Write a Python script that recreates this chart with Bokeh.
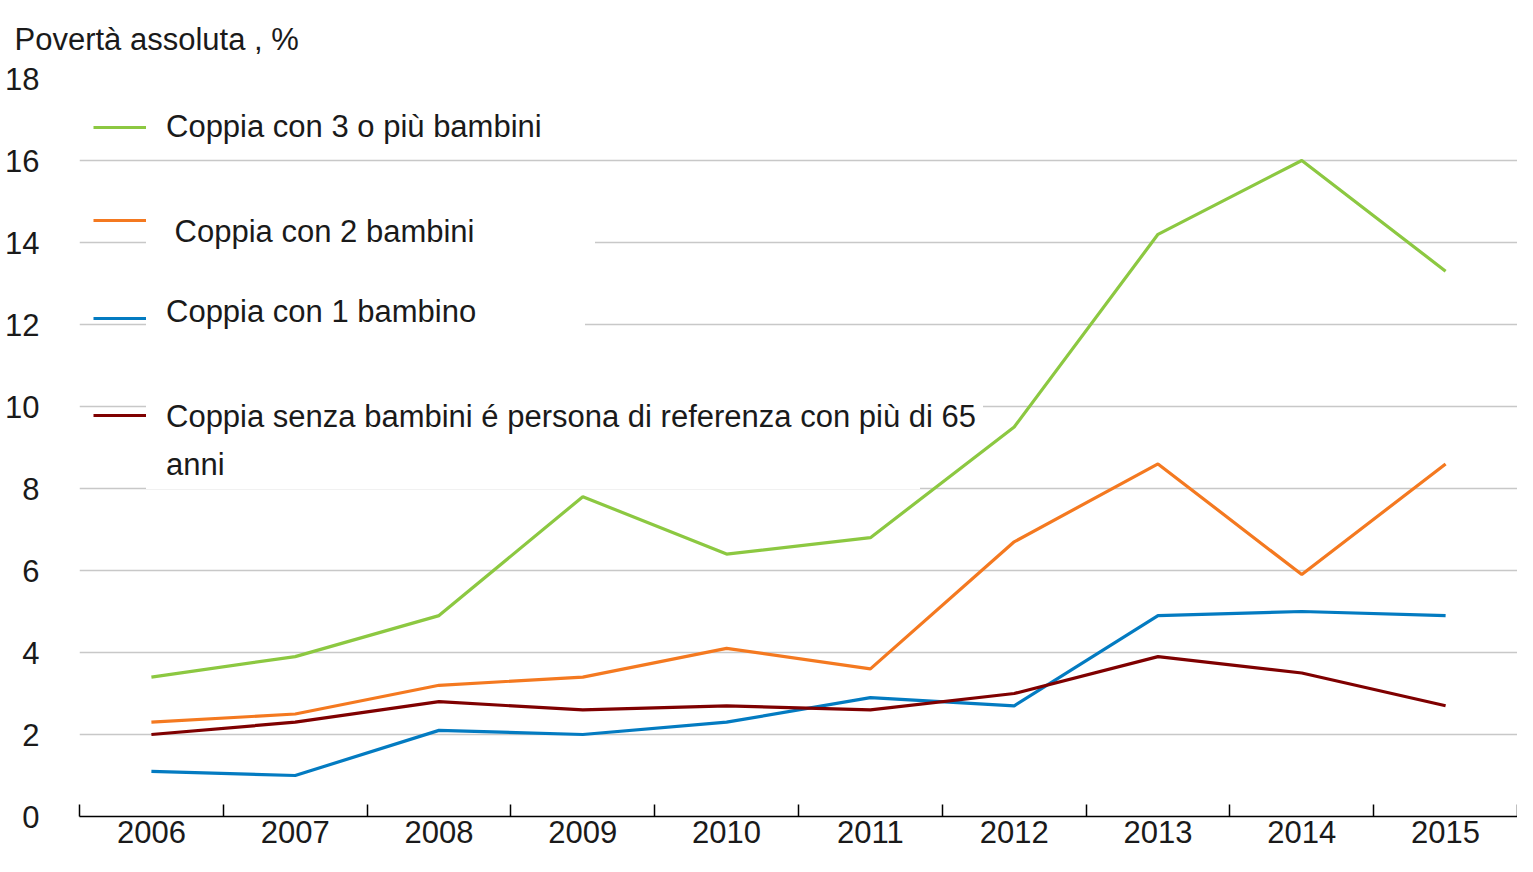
from bokeh.plotting import figure
from bokeh.models import Range1d, FixedTicker, Legend, LegendItem
from bokeh.embed import file_html
from bokeh.resources import INLINE

years = ["2006", "2007", "2008", "2009", "2010", "2011", "2012", "2013", "2014", "2015"]
tre_o_piu = [3.4, 3.9, 4.9, 7.8, 6.4, 6.8, 9.5, 14.2, 16.0, 13.3]
due_bambini = [2.3, 2.5, 3.2, 3.4, 4.1, 3.6, 6.7, 8.6, 5.9, 8.6]
un_bambino = [1.1, 1.0, 2.1, 2.0, 2.3, 2.9, 2.7, 4.9, 5.0, 4.9]
senza_bambini = [2.0, 2.3, 2.8, 2.6, 2.7, 2.6, 3.0, 3.9, 3.5, 2.7]
series_labels = ["Coppia con 3 o più bambini", " Coppia con 2 bambini", "Coppia con 1 bambino",
                 "Coppia senza bambini é persona di referenza con più di 65"]
label_cont = "anni"
series_colors = ["#8CC841", "#F47920", "#037BC1", "#7F0000"]
y_ticks = [0, 2, 4, 6, 8, 10, 12, 14, 16, 18]
title_text = "Povertà assoluta , %"

FONT = "Liberation Sans"
FS = "31px"
TXT = "#1a1a1a"

xs = list(range(len(years)))
p = figure(width=1517, height=856, output_backend="svg", toolbar_location=None,
           x_range=Range1d(-0.5, len(years) - 0.5), y_range=Range1d(0, 18),
           min_border_left=79, min_border_right=0, min_border_top=78, min_border_bottom=40)
p.outline_line_color = None
p.background_fill_color = "white"
p.border_fill_color = "white"

p.title.text = title_text
p.title.text_font = FONT
p.title.text_font_size = FS
p.title.text_font_style = "normal"
p.title.text_color = TXT
p.title.align = "left"
p.title.vertical_align = "top"
p.title.offset = -65
p.title.standoff = 40

# x axis: labels at category centres, ticks at category boundaries
xa = p.xaxis[0]
xa.ticker = FixedTicker(ticks=xs, minor_ticks=[i - 0.5 for i in range(len(years) + 1)])
xa.major_label_overrides = {i: y for i, y in enumerate(years)}
xa.major_tick_in = 0
xa.major_tick_out = 0
xa.minor_tick_in = 12
xa.minor_tick_out = 0
xa.minor_tick_line_color = "black"
xa.minor_tick_line_width = 1.5
xa.axis_line_color = "black"
xa.axis_line_width = 1.5
xa.major_label_standoff = 4
xa.major_label_text_font = FONT
xa.major_label_text_font_size = FS
xa.major_label_text_color = TXT

# y axis
ya = p.yaxis[0]
ya.ticker = FixedTicker(ticks=y_ticks)
ya.axis_line_color = None
ya.major_tick_line_color = None
ya.minor_tick_line_color = None
ya.major_label_standoff = 34
ya.major_label_text_font = FONT
ya.major_label_text_font_size = FS
ya.major_label_text_color = TXT

p.xgrid.grid_line_color = None
p.ygrid.ticker = FixedTicker(ticks=y_ticks)
p.ygrid.grid_line_color = "#C8C8C8"
p.ygrid.grid_line_width = 1.5

renderers = []
for vals, col in zip([tre_o_piu, due_bambini, un_bambino, senza_bambini], series_colors):
    r = p.line(xs, vals, line_color=col, line_width=3.2)
    renderers.append(r)
# transparent twin of the last series, only carrying the wrapped second legend line
r_cont = p.line(xs, senza_bambini, line_color=series_colors[3], line_alpha=0, line_width=3.2)


def style(leg, rh):
    leg.border_line_color = None
    leg.padding = 0
    leg.margin = 0
    leg.spacing = 0
    leg.glyph_height = rh
    leg.label_height = rh
    leg.label_text_font = FONT
    leg.label_text_font_size = FS
    leg.label_text_color = TXT


def text_box(label, r, by, rh, lw):
    box = Legend(items=[LegendItem(label=label, renderers=[r])], location=(67, by))
    style(box, rh)
    box.background_fill_color = "white"
    box.background_fill_alpha = 1
    box.glyph_width = 0
    box.label_standoff = 20
    if lw:
        box.label_width = lw
    p.add_layout(box, "center")


def symbol(r, by):
    sym = Legend(items=[LegendItem(label=" ", renderers=[r])], location=(14, by))
    style(sym, 44)
    sym.background_fill_alpha = 0
    sym.glyph_width = 53
    sym.label_standoff = 0
    sym.label_width = 0
    p.add_layout(sym, "center")


# white text boxes: (frame-bottom offset, row height, label width)
text_specs = [(667, 44, 0), (562, 44, 429), (482, 44, 419), (375, 48, 817)]
symbol_specs = [667, 574, 476, 379]
for r, lab, (by, rh, lw), sy in zip(renderers, series_labels, text_specs, symbol_specs):
    text_box(lab, r, by, rh, lw)
    symbol(r, sy)
text_box(label_cont, r_cont, 327, 48, 754)

open("out.html", "w").write(file_html(p, INLINE))
